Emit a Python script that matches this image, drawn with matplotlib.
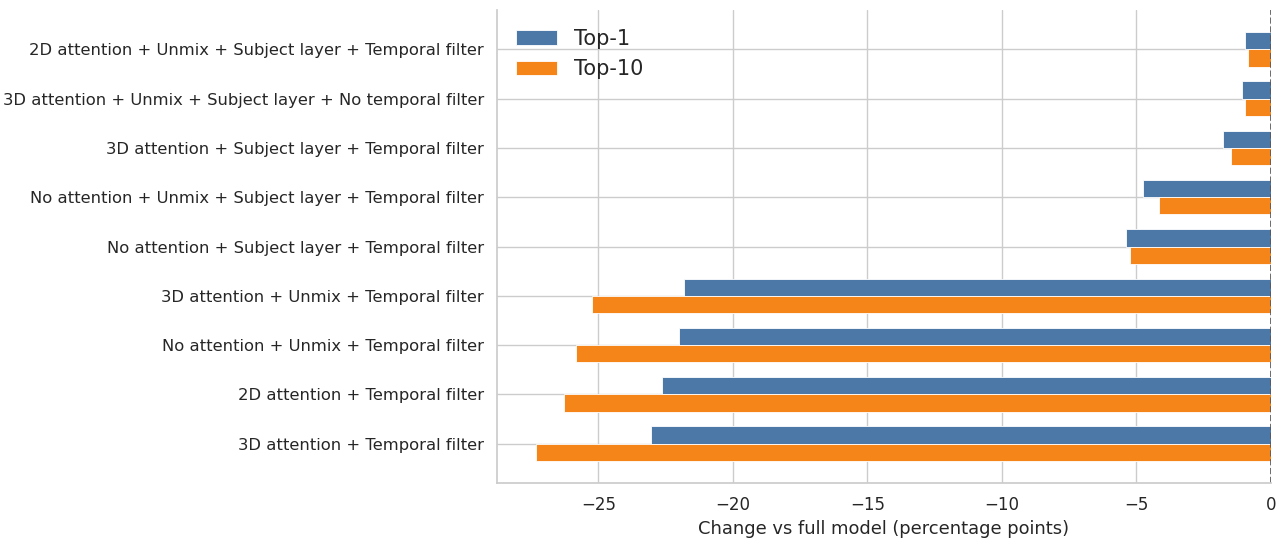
import matplotlib
matplotlib.use("Agg")
import matplotlib.pyplot as plt
import seaborn as sns
import numpy as np

categories = [
    "2D attention + Unmix + Subject layer + Temporal filter",
    "3D attention + Unmix + Subject layer + No temporal filter",
    "3D attention + Subject layer + Temporal filter",
    "No attention + Unmix + Subject layer + Temporal filter",
    "No attention + Subject layer + Temporal filter",
    "3D attention + Unmix + Temporal filter",
    "No attention + Unmix + Temporal filter",
    "2D attention + Temporal filter",
    "3D attention + Temporal filter",
]
top1 = [-0.96, -1.08, -1.78, -4.76, -5.38, -21.81, -22.0, -22.65, -23.04]
top10 = [-0.87, -0.96, -1.49, -4.15, -5.24, -25.24, -25.82, -26.28, -27.32]

sns.set_theme(style="whitegrid")
plt.rcParams['font.family'] = ['DejaVu Sans']

fig = plt.figure(figsize=(12.78, 5.4), dpi=100)
ax = fig.add_axes([497/1278, 1 - 483/540, (1271 - 497)/1278, (483 - 10)/540])

y = np.arange(len(categories))
h = 0.35
ax.barh(y - 0.175, top1, height=h, color="#4c78a8", label="Top-1",
        edgecolor="white", linewidth=0.6)
ax.barh(y + 0.175, top10, height=h, color="#f58518", label="Top-10",
        edgecolor="white", linewidth=0.6)
ax.axvline(0, color="#555555", linestyle="--", linewidth=1.2)

ax.set_yticks(y)
ax.set_yticklabels(categories, fontsize=11.8)
ax.set_ylim(8.8, -0.8)
ax.set_xlim(-28.77, 0)
ax.set_xticks([-25, -20, -15, -10, -5, 0])
ax.tick_params(axis='x', labelsize=12)
ax.set_xlabel("Change vs full model (percentage points)", fontsize=12.9, labelpad=4)
for s in ["top", "right"]:
    ax.spines[s].set_visible(False)
for s in ["left", "bottom"]:
    ax.spines[s].set_color("#cccccc")
ax.legend(loc="upper left", fontsize=15, frameon=False)

fig.savefig("out.png", dpi=100)
